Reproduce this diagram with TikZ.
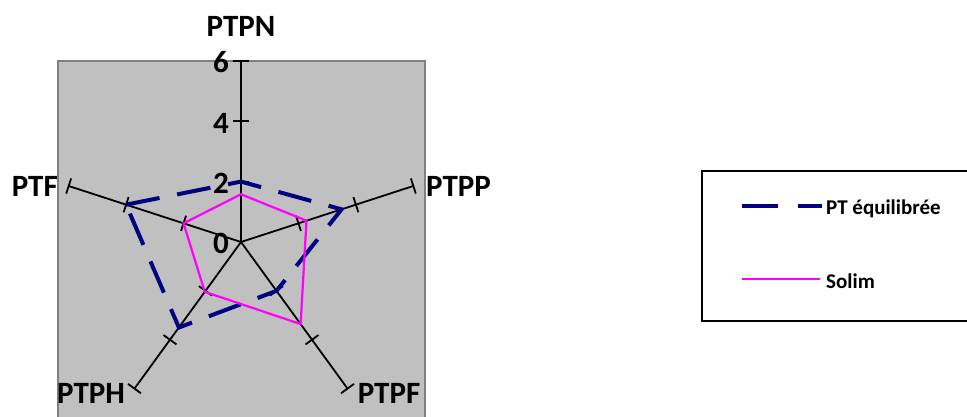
\documentclass[tikz,border=0pt]{standalone}
\usepackage{fontspec}
\setmainfont{Carlito}
\usetikzlibrary{calc}
\definecolor{plotgray}{HTML}{C0C0C0}
\definecolor{framegray}{HTML}{808080}
\definecolor{navyblue}{HTML}{000080}
\definecolor{solimpink}{HTML}{FF00FF}
\begin{document}
\begin{tikzpicture}[x=1pt,y=1pt,
  axisline/.style={black,line width=1.8pt},
  tickmark/.style={black,line width=1.8pt},
  axislabel/.style={font=\fontsize{31}{31}\selectfont\bfseries,inner sep=0pt},
  numlabel/.style={font=\fontsize{31}{31}\selectfont\bfseries,inner sep=0pt,anchor=east},
  eqline/.style={navyblue,line width=4pt,dash pattern=on 34pt off 18pt},
  solimline/.style={solimpink,line width=2.2pt},
  legtext/.style={font=\fontsize{21}{21}\selectfont\bfseries,inner sep=0pt,anchor=west}]
\useasboundingbox (0,0) rectangle (967,417);
\fill[plotgray] (58,0) rectangle (425,356);
\draw[framegray,line width=1.5pt] (58,0) -- (58,356) -- (425,356) -- (425,0);
\coordinate (O) at (241,175);
\def\u{30.2}
\foreach \n/\a in {N/90,P/18,F/-54,H/-126,T/162}{
  \coordinate (e\n) at ([shift={(\a:6*\u)}]O);
  \draw[axisline] (O) -- (e\n);
  \foreach \r in {2,4,6}{
    \coordinate (t\n\r) at ([shift={(\a:\r*\u)}]O);
    \draw[tickmark] ([shift={(\a+90:8)}]t\n\r) -- ([shift={(\a-90:8)}]t\n\r);
  }
}
\foreach \n/\a/\v in {N/90/2,P/18/3.5,F/-54/2,H/-126/3.5,T/162/4}
  \coordinate (b\n) at ([shift={(\a:\v*\u)}]O);
\foreach \n/\a/\v in {N/90/1.58,P/18/2.28,F/-54/3.36,H/-126/2.04,T/162/2}
  \coordinate (s\n) at ([shift={(\a:\v*\u)}]O);
\draw[eqline] (bT) -- (bN) -- (bP) -- (bF) -- (bH) -- cycle;
\draw[solimline] (sN) -- (sP) -- (sF) -- (sH) -- (sT) -- cycle;
\node[numlabel] (n6) at (229,354.5) {6};
\node[numlabel] (n4) at (229,293.5) {4};
\node[numlabel] (n2) at (229,233.5) {2};
\node[numlabel] (n0) at (229,174) {0};
\node[axislabel] (lN) at (241,391) {PTPN};
\node[axislabel,anchor=east] (lT) at (58,231) {PTF};
\node[axislabel,anchor=west] (lP) at (426,231) {PTPP};
\node[axislabel] (lH) at (91,24) {PTPH};
\node[axislabel] (lF) at (389,24) {PTPF};
\draw[black,line width=1.6pt] (702,96) rectangle (972,246);
\coordinate (la1) at (742,211);
\coordinate (la2) at (822,211);
\draw[eqline,dash pattern=on 36pt off 20pt] (la1) -- (la2);
\node[legtext] (lg1) at (826,208) {PT équilibrée};
\coordinate (lb1) at (742,138);
\coordinate (lb2) at (820,138);
\draw[solimline] (lb1) -- (lb2);
\node[legtext] (lg2) at (826,136) {Solim};
\end{tikzpicture}
\end{document}
